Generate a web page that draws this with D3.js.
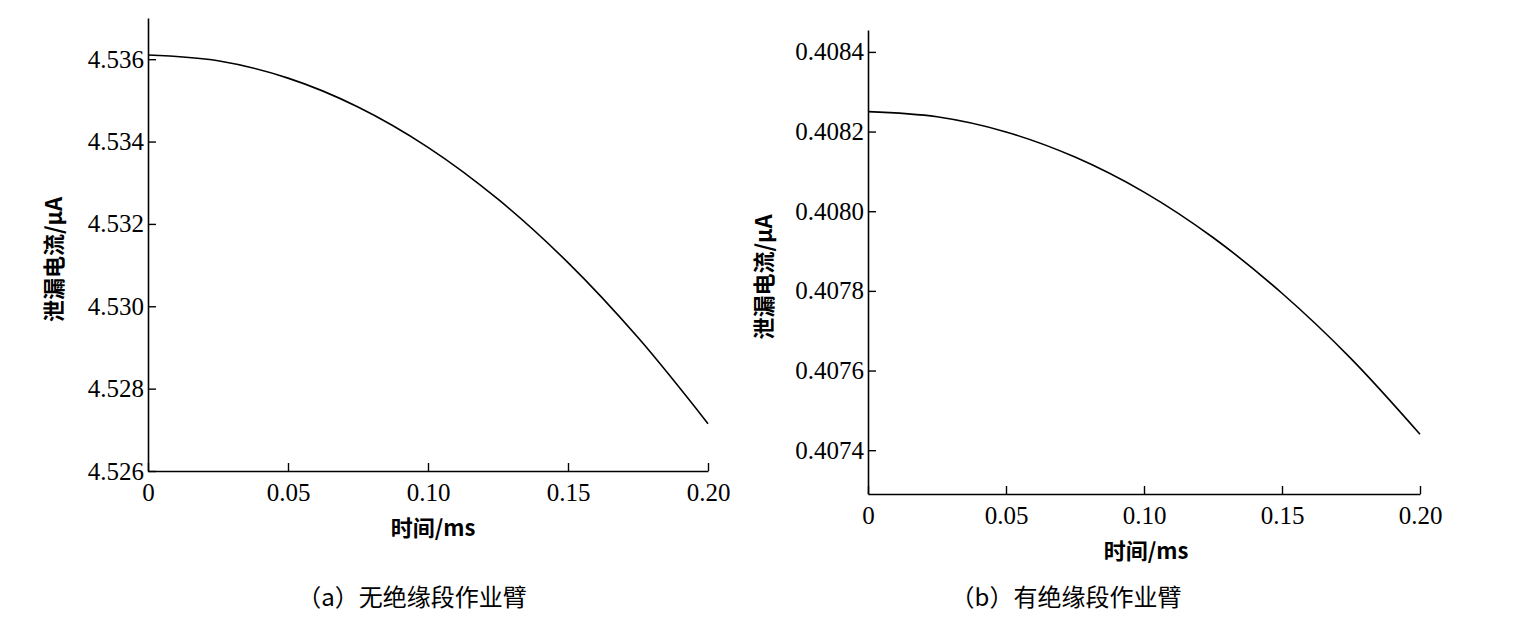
<!DOCTYPE html><html><head><meta charset="utf-8"><script src="https://cdn.jsdelivr.net/npm/d3@7"></script>
<style>body{margin:0;background:#fff}.num{font-family:"Liberation Serif","DejaVu Serif",serif !important}</style></head><body><svg id="c" width="1526" height="620"></svg>
<script>
const times=[0,0.025,0.05,0.075,0.1,0.125,0.15,0.175,0.2];
const seriesA=[4.5361,4.53596,4.53554,4.53484,4.53386,4.5326,4.53106,4.52924,4.52715];
const seriesB=[0.40825,0.408237,0.408199,0.408136,0.408048,0.407934,0.407794,0.40763,0.40744];
const xTicks=[0,0.05,0.10,0.15,0.20];
const xTickLabels=["0","0.05","0.10","0.15","0.20"];
const yTicksA=[4.526,4.528,4.530,4.532,4.534,4.536];
const yTicksB=[0.4074,0.4076,0.4078,0.4080,0.4082,0.4084];
const captions=["（a）无绝缘段作业臂","（b）有绝缘段作业臂"];
const svg=d3.select("#c");
const cjk="'Noto Sans CJK SC',sans-serif";
function styleAxis(a){a.attr("font-family",null);a.select(".domain").attr("stroke-width",1.6);a.selectAll(".tick line").attr("stroke-width",1.4);a.selectAll("text").attr("class","num").style("font-size","25px").attr("fill","#000");}
function panel(o){
  const x=d3.scaleLinear().domain([0,0.2]).range([o.x0,o.x1]);
  const y=d3.scaleLinear().domain(o.yd).range([o.yb,o.yt]);
  const g=svg.append("g");
  g.append("g").attr("transform",`translate(0,${o.yb})`).call(d3.axisBottom(x).tickValues(xTicks).tickFormat((d,i)=>xTickLabels[i]).tickSizeInner(-8).tickSizeOuter(0).tickPadding(12)).call(styleAxis);
  g.append("g").attr("transform",`translate(${o.x0},0)`).call(d3.axisLeft(y).tickValues(o.yt_).tickFormat(o.fmt).tickSizeInner(-8).tickSizeOuter(0).tickPadding(4)).call(styleAxis);
  g.append("path").datum(o.data).attr("fill","none").attr("stroke","#000").attr("stroke-width",1.6)
   .attr("d",d3.line().x((d,i)=>x(times[i])).y(d=>y(d)).curve(d3.curveCatmullRom));
  g.append("text").attr("x",o.xt).attr("y",o.yb+65).attr("text-anchor","middle").attr("font-family",cjk).attr("font-weight","bold").attr("font-size",22).text("时间/ms");
  g.append("text").attr("transform",`translate(${o.yl},${(o.yb+o.yt)/2+15}) rotate(-90)`).attr("text-anchor","middle").attr("font-family",cjk).attr("font-weight","bold").attr("font-size",22).text("泄漏电流/μA");
  g.append("text").attr("x",o.cx).attr("y",606).attr("text-anchor","middle").attr("font-family",cjk).attr("font-size",24).text(o.cap);
}
panel({x0:148,x1:708,yb:471,yt:18,yd:[4.526,4.537],yt_:yTicksA,fmt:d3.format(".3f"),data:seriesA,xt:433,yl:62,cx:412,cap:captions[0]});
panel({x0:868,x1:1420,yb:494,yt:30,yd:[0.40729,0.408455],yt_:yTicksB,fmt:d3.format(".4f"),data:seriesB,xt:1146,yl:772,cx:1066,cap:captions[1]});
</script></body></html>
